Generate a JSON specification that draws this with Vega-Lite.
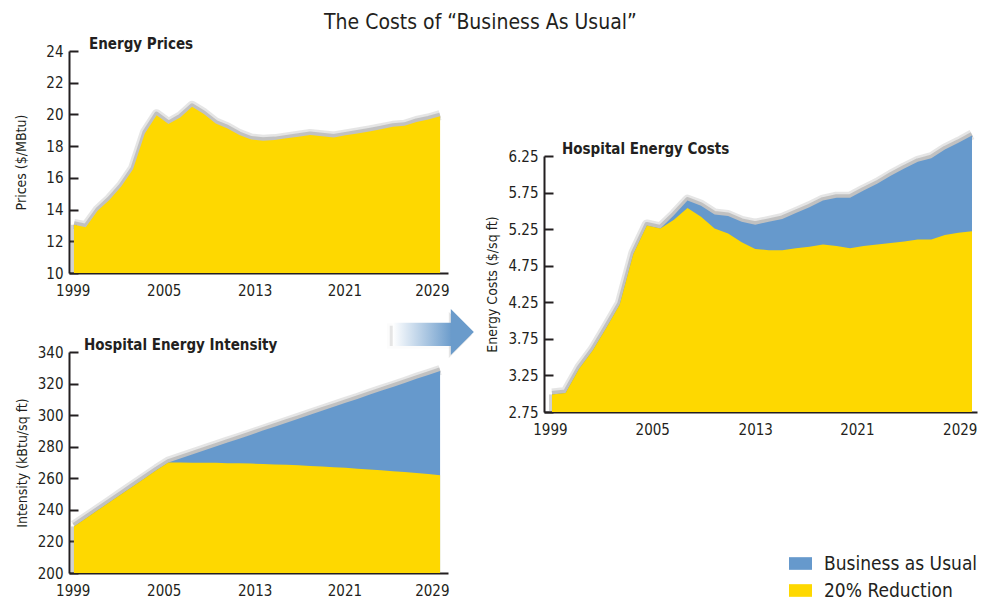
{
  "$schema": "https://vega.github.io/schema/vega-lite/v6.json",
  "padding": {"left": 14, "top": 12, "right": 5, "bottom": 3},
  "background": "white",
  "title": {"text": "The Costs of “Business As Usual”", "fontSize": 21, "fontWeight": "normal", "color": "#231f20", "anchor": "middle", "offset": 4, "dx": -16},
  "config": {
    "view": {"stroke": null},
    "font": "Liberation Sans Narrow, DejaVu Sans Condensed, sans-serif",
    "title": {"font": "Liberation Sans Narrow, DejaVu Sans Condensed, sans-serif", "color": "#231f20"},
    "axis": {"grid": false, "domainColor": "#231f20", "domainWidth": 2, "tickColor": "#231f20", "tickWidth": 2, "labelColor": "#231f20", "titleColor": "#231f20", "labelFont": "Liberation Sans Narrow, DejaVu Sans Condensed, sans-serif", "titleFont": "Liberation Sans Narrow, DejaVu Sans Condensed, sans-serif"},
    "axisX": {"ticks": false, "labelPadding": 10, "labelFontSize": 15, "labelOverlap": false, "labelFlush": false},
    "axisY": {"tickSize": -9, "labelPadding": 15, "labelFontSize": 15, "titleFontSize": 14, "titleFontWeight": "normal", "titlePadding": 8, "labelOverlap": false}
  },
  "datasets": {
    "ts": [
      {"year": 1999, "price": 13.04, "int_red": 229.5, "int_bau": 229.5, "cost_red": 2.99, "cost_bau": 2.99},
      {"year": 2000, "price": 12.89, "int_red": 234.6, "int_bau": 234.6, "cost_red": 3.01, "cost_bau": 3.01},
      {"year": 2001, "price": 13.92, "int_red": 239.7, "int_bau": 239.7, "cost_red": 3.34, "cost_bau": 3.34},
      {"year": 2002, "price": 14.61, "int_red": 244.8, "int_bau": 244.8, "cost_red": 3.59, "cost_bau": 3.59},
      {"year": 2003, "price": 15.45, "int_red": 249.9, "int_bau": 249.9, "cost_red": 3.90, "cost_bau": 3.90},
      {"year": 2004, "price": 16.54, "int_red": 255.0, "int_bau": 255.0, "cost_red": 4.22, "cost_bau": 4.22},
      {"year": 2005, "price": 18.80, "int_red": 260.1, "int_bau": 260.1, "cost_red": 4.91, "cost_bau": 4.91},
      {"year": 2006, "price": 19.95, "int_red": 265.2, "int_bau": 265.2, "cost_red": 5.30, "cost_bau": 5.30},
      {"year": 2007, "price": 19.39, "int_red": 270.0, "int_bau": 270.0, "cost_red": 5.26, "cost_bau": 5.26},
      {"year": 2008, "price": 19.81, "int_red": 270.0, "int_bau": 272.5, "cost_red": 5.38, "cost_bau": 5.44},
      {"year": 2009, "price": 20.48, "int_red": 269.9, "int_bau": 275.0, "cost_red": 5.54, "cost_bau": 5.64},
      {"year": 2010, "price": 20.02, "int_red": 269.9, "int_bau": 277.6, "cost_red": 5.42, "cost_bau": 5.57},
      {"year": 2011, "price": 19.43, "int_red": 269.8, "int_bau": 280.1, "cost_red": 5.26, "cost_bau": 5.45},
      {"year": 2012, "price": 19.12, "int_red": 269.6, "int_bau": 282.6, "cost_red": 5.19, "cost_bau": 5.43},
      {"year": 2013, "price": 18.70, "int_red": 269.5, "int_bau": 285.1, "cost_red": 5.07, "cost_bau": 5.35},
      {"year": 2014, "price": 18.42, "int_red": 269.3, "int_bau": 287.6, "cost_red": 4.98, "cost_bau": 5.31},
      {"year": 2015, "price": 18.34, "int_red": 269.0, "int_bau": 290.2, "cost_red": 4.96, "cost_bau": 5.35},
      {"year": 2016, "price": 18.38, "int_red": 268.8, "int_bau": 292.7, "cost_red": 4.96, "cost_bau": 5.39},
      {"year": 2017, "price": 18.49, "int_red": 268.5, "int_bau": 295.2, "cost_red": 4.99, "cost_bau": 5.47},
      {"year": 2018, "price": 18.59, "int_red": 268.2, "int_bau": 297.7, "cost_red": 5.01, "cost_bau": 5.55},
      {"year": 2019, "price": 18.70, "int_red": 267.8, "int_bau": 300.3, "cost_red": 5.04, "cost_bau": 5.64},
      {"year": 2020, "price": 18.63, "int_red": 267.4, "int_bau": 302.8, "cost_red": 5.02, "cost_bau": 5.68},
      {"year": 2021, "price": 18.55, "int_red": 267.0, "int_bau": 305.3, "cost_red": 4.99, "cost_bau": 5.68},
      {"year": 2022, "price": 18.68, "int_red": 266.6, "int_bau": 307.8, "cost_red": 5.02, "cost_bau": 5.78},
      {"year": 2023, "price": 18.80, "int_red": 266.1, "int_bau": 310.3, "cost_red": 5.04, "cost_bau": 5.87},
      {"year": 2024, "price": 18.93, "int_red": 265.6, "int_bau": 312.9, "cost_red": 5.06, "cost_bau": 5.98},
      {"year": 2025, "price": 19.07, "int_red": 265.1, "int_bau": 315.4, "cost_red": 5.08, "cost_bau": 6.08},
      {"year": 2026, "price": 19.22, "int_red": 264.5, "int_bau": 317.9, "cost_red": 5.11, "cost_bau": 6.17},
      {"year": 2027, "price": 19.28, "int_red": 264.0, "int_bau": 320.4, "cost_red": 5.11, "cost_bau": 6.22},
      {"year": 2028, "price": 19.53, "int_red": 263.3, "int_bau": 323.0, "cost_red": 5.17, "cost_bau": 6.34},
      {"year": 2029, "price": 19.68, "int_red": 262.7, "int_bau": 325.5, "cost_red": 5.20, "cost_bau": 6.43},
      {"year": 2030, "price": 19.89, "int_red": 262.0, "int_bau": 328.0, "cost_red": 5.22, "cost_bau": 6.53}
    ]
  },
  "spacing": 11,
  "hconcat": [
    {
      "bounds": "flush",
      "spacing": 79,
      "vconcat": [
        {
          "width": 379, "height": 222,
          "title": {"text": "Energy Prices", "anchor": "start", "frame": "group", "dx": 20, "offset": -8, "fontSize": 15, "fontWeight": "bold"},
          "data": {"name": "ts"},
          "encoding": {
            "x": {"field": "year", "type": "quantitative", "title": null,
                  "scale": {"domain": [1998.58, 2030.67], "nice": false, "zero": false},
                  "axis": {"values": [1998.9, 2006.6, 2014.3, 2021.9, 2029.3], "labelExpr": "datum.value < 2002 ? '1999' : datum.value < 2010 ? '2005' : datum.value < 2018 ? '2013' : datum.value < 2025 ? '2021' : '2029'"}},
            "y": {"field": "price", "type": "quantitative", "title": "Prices ($/MBtu)",
                  "scale": {"domain": [10, 24], "nice": false, "zero": false},
                  "axis": {"values": [10, 12, 14, 16, 18, 20, 22, 24], "labelOverlap": false, "titlePadding": 17}}
          },
          "layer": [
            {"mark": {"type": "line", "color": "#666666", "strokeWidth": 10, "opacity": 0.17, "strokeJoin": "round", "yOffset": -1}},
            {"mark": {"type": "line", "color": "#666666", "strokeWidth": 5, "opacity": 0.28, "strokeJoin": "round", "yOffset": -1}},
            {"transform": [{"filter": {"field": "year", "equal": 1999}}],
             "mark": {"type": "rule", "color": "#666666", "strokeWidth": 6, "opacity": 0.3},
             "encoding": {"y2": {"datum": 10}}},
            {"mark": {"type": "area", "color": "#fed800", "opacity": 1},
             "encoding": {"y2": {"datum": 10}}},
            {"transform": [{"filter": {"field": "year", "equal": 1999}}],
             "mark": {"type": "rect", "color": "#777777", "opacity": 0.18, "stroke": "#777777", "strokeWidth": 5, "strokeOpacity": 0.1, "xOffset": -3, "yOffset": 3},
             "encoding": {"x": {"datum": 2025.99}, "x2": {"datum": 2031.0}, "y": {"datum": 6.87}, "y2": {"datum": 5.40}}},
            {"transform": [{"filter": {"field": "year", "equal": 1999}}],
             "mark": {"type": "point", "filled": true, "color": "#777777", "opacity": 0.18, "strokeWidth": 0,
                      "shape": "M -0.5 -1 L 0.5 0 L -0.5 1 Z", "size": 2116, "xOffset": -2, "yOffset": 3},
             "encoding": {"x": {"datum": 2031.88}, "y": {"datum": 6.28}}},
            {"transform": [{"filter": {"field": "year", "equal": 1999}}],
             "mark": {"type": "rect", "color": {"gradient": "linear", "x1": 0, "x2": 1, "y1": 0, "y2": 0, "stops": [{"offset": 0, "color": "#ffffff"}, {"offset": 1, "color": "#6a9bcb"}]}},
             "encoding": {"x": {"datum": 2025.99}, "x2": {"datum": 2031.0}, "y": {"datum": 6.87}, "y2": {"datum": 5.40}}},
            {"transform": [{"filter": {"field": "year", "equal": 1999}}],
             "mark": {"type": "point", "filled": true, "color": "#6a9bcb", "opacity": 1, "strokeWidth": 0,
                      "shape": "M -0.5 -1 L 0.5 0 L -0.5 1 Z", "size": 2116},
             "encoding": {"x": {"datum": 2031.88}, "y": {"datum": 6.28}}}
          ]
        },
        {
          "width": 379, "height": 221,
          "title": {"text": "Hospital Energy Intensity", "anchor": "start", "frame": "group", "dx": 15, "offset": -8, "fontSize": 15, "fontWeight": "bold"},
          "data": {"name": "ts"},
          "transform": [{"fold": ["int_bau", "int_red"], "as": ["series", "value"]}],
          "encoding": {
            "x": {"field": "year", "type": "quantitative", "title": null,
                  "scale": {"domain": [1998.58, 2030.67], "nice": false, "zero": false},
                  "axis": {"values": [1998.9, 2006.6, 2014.3, 2021.9, 2029.3], "labelExpr": "datum.value < 2002 ? '1999' : datum.value < 2010 ? '2005' : datum.value < 2018 ? '2013' : datum.value < 2025 ? '2021' : '2029'"}},
            "y": {"field": "value", "type": "quantitative", "title": "Intensity (kBtu/sq ft)", "stack": null,
                  "scale": {"domain": [200, 340], "nice": false, "zero": false},
                  "axis": {"values": [200, 220, 240, 260, 280, 300, 320, 340], "labelOverlap": false}}
          },
          "layer": [
            {"transform": [{"filter": {"field": "series", "equal": "int_bau"}}],
             "mark": {"type": "line", "color": "#666666", "strokeWidth": 10, "opacity": 0.17, "strokeJoin": "round", "yOffset": -1}},
            {"transform": [{"filter": {"field": "series", "equal": "int_bau"}}],
             "mark": {"type": "line", "color": "#666666", "strokeWidth": 5, "opacity": 0.28, "strokeJoin": "round", "yOffset": -1}},
            {"transform": [{"filter": {"and": [{"field": "series", "equal": "int_bau"}, {"field": "year", "equal": 1999}]}}],
             "mark": {"type": "rule", "color": "#666666", "strokeWidth": 6, "opacity": 0.3},
             "encoding": {"y2": {"datum": 200}}},
            {"transform": [{"filter": {"field": "series", "equal": "int_bau"}}],
             "mark": {"type": "area", "color": "#6699cc", "opacity": 1},
             "encoding": {"y2": {"datum": 200}}},
            {"transform": [{"filter": {"field": "series", "equal": "int_red"}}],
             "mark": {"type": "area", "color": "#fed800", "opacity": 1},
             "encoding": {"y2": {"datum": 200}}}
          ]
        }
      ]
    },
    {
      "bounds": "flush",
      "spacing": 10,
      "vconcat": [
        {
          "width": 433, "height": 95,
          "data": {"values": [{"a": 0}]},
          "mark": {"type": "point", "opacity": 0},
          "encoding": {}
        },
        {
          "width": 433, "height": 256,
          "title": {"text": "Hospital Energy Costs", "anchor": "start", "frame": "group", "dx": 18, "offset": -27, "fontSize": 15, "fontWeight": "bold"},
          "data": {"name": "ts"},
          "transform": [{"fold": ["cost_bau", "cost_red"], "as": ["series", "value"]}],
          "encoding": {
            "x": {"field": "year", "type": "quantitative", "title": null,
                  "scale": {"domain": [1998.41, 2030.37], "nice": false, "zero": false},
                  "axis": {"values": [1998.85, 2006.4, 2014.0, 2021.5, 2029.1], "labelExpr": "datum.value < 2002 ? '1999' : datum.value < 2010 ? '2005' : datum.value < 2018 ? '2013' : datum.value < 2025 ? '2021' : '2029'"}},
            "y": {"field": "value", "type": "quantitative", "title": "Energy Costs ($/sq ft)", "stack": null,
                  "scale": {"domain": [2.75, 6.25], "nice": false, "zero": false},
                  "axis": {"values": [2.75, 3.25, 3.75, 4.25, 4.75, 5.25, 5.75, 6.25], "format": ".2f", "labelOverlap": false}}
          },
          "layer": [
            {"transform": [{"filter": {"field": "series", "equal": "cost_bau"}}],
             "mark": {"type": "line", "color": "#666666", "strokeWidth": 10, "opacity": 0.17, "strokeJoin": "round", "yOffset": -1}},
            {"transform": [{"filter": {"field": "series", "equal": "cost_bau"}}],
             "mark": {"type": "line", "color": "#666666", "strokeWidth": 5, "opacity": 0.28, "strokeJoin": "round", "yOffset": -1}},
            {"transform": [{"filter": {"and": [{"field": "series", "equal": "cost_bau"}, {"field": "year", "equal": 1999}]}}],
             "mark": {"type": "rule", "color": "#666666", "strokeWidth": 6, "opacity": 0.3},
             "encoding": {"y2": {"datum": 2.75}}},
            {"transform": [{"filter": {"field": "series", "equal": "cost_bau"}}],
             "mark": {"type": "area", "opacity": 1},
             "encoding": {
               "y2": {"datum": 2.75},
               "color": {"datum": "Business as Usual", "type": "nominal",
                         "scale": {"domain": ["Business as Usual", "20% Reduction"], "range": ["#6699cc", "#fed800"]},
                         "legend": {"orient": "none", "legendX": 720, "legendY": 501, "title": null,
                                    "symbolType": "M -1 -0.55 L 1 -0.55 L 1 0.55 L -1 0.55 Z", "symbolSize": 529,
                                    "symbolStrokeWidth": 0, "symbolOpacity": 1, "labelFontSize": 19, "labelOffset": 12,
                                    "labelColor": "#231f20", "rowPadding": 5, "padding": 0, "labelLimit": 400,
                                    "labelFont": "Liberation Sans Narrow, DejaVu Sans Condensed, sans-serif"}}}},
            {"transform": [{"filter": {"field": "series", "equal": "cost_red"}}],
             "mark": {"type": "area", "opacity": 1},
             "encoding": {
               "y2": {"datum": 2.75},
               "color": {"datum": "20% Reduction", "type": "nominal"}}}
          ]
        }
      ]
    }
  ]
}
